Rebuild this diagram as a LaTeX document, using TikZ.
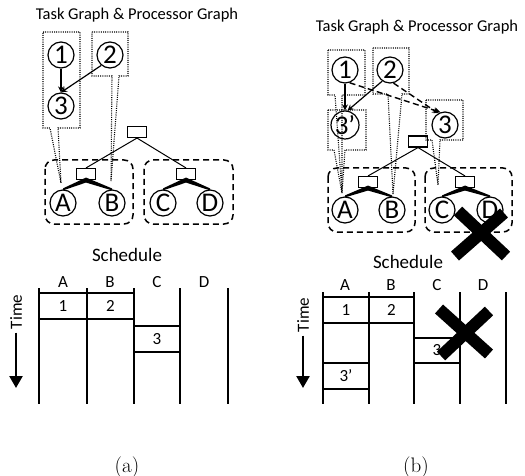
\documentclass[tikz,border=0pt]{standalone}
\usepackage{fontspec}
\newfontfamily\sffont{Carlito}
\usetikzlibrary{arrows.meta}

\tikzset{
    task/.style={circle, draw, line width=1.2pt, minimum size=26pt, inner sep=0pt,
        font=\sffont\fontsize{27}{27}\selectfont},
    switch/.style={draw, line width=1.1pt, minimum width=19pt, minimum height=11pt, inner sep=0pt},
    group/.style={line width=1.5pt, dash pattern=on 6pt off 4pt, rounded corners=9pt},
    callout/.style={line width=1.1pt, dash pattern=on 1pt off 1.2pt},
    link/.style={line width=1pt},
    dep/.style={line width=1.2pt, -{Stealth[length=6pt,width=6pt]}},
    moved/.style={dep, line width=1.4pt, dash pattern=on 6pt off 3.5pt},
    col/.style={line width=2.2pt},
    slot/.style={draw, line width=1.5pt, inner sep=0pt, minimum height=26pt,
        font=\sffont\fontsize{17}{17}\selectfont},
    head/.style={font=\sffont\fontsize{16.5}{16.5}\selectfont},
    schedhead/.style={font=\sffont\fontsize{19}{19}\selectfont},
    colname/.style={font=\sffont\fontsize{17}{17}\selectfont},
    timearrow/.style={line width=2.5pt, -{Triangle[length=12pt,width=13pt]}},
    cross/.style={line width=12pt}
}

\begin{document}
\begin{tikzpicture}[x=1pt, y=-1pt]
    \useasboundingbox (0,0) rectangle (525,476);

    % (a) task graph and processor graph
    \node[head] (titlea) at (137,15) {Task Graph \& Processor Graph};
    \draw[callout] (43,32) -- (80,32) -- (80,128) -- (58,128) -- (61,183) -- (50,128) -- (43,128) -- cycle;
    \draw[callout] (92,32) -- (128,32) -- (128,76) -- (119,76) -- (111,181) -- (112,76) -- (92,76) -- cycle;
    \node[task] (t1a) at (61,55) {1};
    \node[task] (t2a) at (110,55) {2};
    \node[task] (t3a) at (61,106) {3};
    \draw[dep] (t1a) -- (t3a);
    \draw[dep] (t2a.-130) -- (t3a.north);

    \draw[group] (45,160) rectangle (133,224);
    \draw[group] (144,160) rectangle (233,224);
    \node[switch] (roota) at (137,132) {};
    \node[switch] (sla) at (86,174) {};
    \node[switch] (sra) at (186,174) {};
    \node[task] (pAa) at (63,203) {A};
    \node[task] (pBa) at (112,203) {B};
    \node[task] (pCa) at (163,203) {C};
    \node[task] (pDa) at (210,203) {D};
    \draw[link] (roota.south) -- (sla.north);
    \draw[link] (roota.south) -- (sra.north);
    \foreach \s/\p in {sla/pAa, sla/pBa, sra/pCa, sra/pDa} {
        \fill ([yshift=2.5pt]\s.south) -- ([yshift=-2.5pt]\s.south) -- ([yshift=-1pt]\p.north) -- ([yshift=1pt]\p.north) -- cycle;
    }

    % (a) schedule
    \node[schedhead] (scha) at (127,255) {Schedule};
    \foreach \x/\n in {63/A, 110/B, 157/C, 204/D} {
        \node[colname] at (\x,282) {\n};
    }
    \foreach \x in {39,87,134,180,228} {
        \draw[col] (\x,288) -- (\x,404);
    }
    \node[slot, minimum width=48pt] (s1a) at (63,306) {1};
    \node[slot, minimum width=47pt] (s2a) at (110.5,306) {2};
    \node[slot, minimum width=46pt] (s3a) at (157,339) {3};
    \node[colname, rotate=90] (timea) at (16,312) {Time};
    \coordinate (enda) at (16,388);
    \draw[timearrow] (timea.west) -- (enda);
    \node[font=\fontsize{21}{21}\selectfont] (capa) at (127,467) {(a)};

    % (b) task graph and processor graph
    \node[head] (titleb) at (417,27) {Task Graph \& Processor Graph};
    \draw[callout] (328,50) -- (365,50) -- (365,95) -- (342,95) -- (342,193) -- (335,95) -- (328,95) -- cycle;
    \draw[callout] (373,48) -- (409,48) -- (409,94) -- (402,94) -- (393,194) -- (388,94) -- (373,94) -- cycle;
    \draw[callout] (328,110) -- (366,110) -- (366,150) -- (345,150) -- (342,193) -- (334,150) -- (328,150) -- cycle;
    \draw[callout] (426,100) -- (463,100) -- (463,140) -- (440,140) -- (438,185) -- (432,140) -- (426,140) -- cycle;
    \node[task] (t1b) at (345,70) {1};
    \node[task] (t2b) at (390,70) {2};
    \node[task] (t3pb) at (345,125) {3’};
    \node[task] (t3b) at (445,125) {3};
    \draw[dep] (t1b) -- (t3pb);
    \draw[dep] (t2b.-125) -- (t3pb.80);
    \draw[moved] (t1b.-70) -- (t3b.110);
    \draw[moved] (t2b.-75) -- (t3b.120);

    \draw[group] (328,168) rectangle (415,232);
    \draw[group] (425,168) rectangle (512,232);
    \node[switch] (rootb) at (418,141.5) {};
    \node[switch] (slb) at (368,182) {};
    \node[switch] (srb) at (465,182) {};
    \node[task] (pAb) at (345,210) {A};
    \node[task] (pBb) at (392,210) {B};
    \node[task] (pCb) at (442,210) {C};
    \node[task] (pDb) at (490,210) {D};
    \draw[link] (rootb.south) -- (slb.north);
    \draw[link] (rootb.south) -- (srb.north);
    \foreach \s/\p in {slb/pAb, slb/pBb, srb/pCb, srb/pDb} {
        \fill ([yshift=2.5pt]\s.south) -- ([yshift=-2.5pt]\s.south) -- ([yshift=-1pt]\p.north) -- ([yshift=1pt]\p.north) -- cycle;
    }
    \draw[cross] (458,211) -- (506,256) (504,213) -- (455,256);

    % (b) schedule
    \node[schedhead] (schb) at (408,262) {Schedule};
    \foreach \x/\n in {345/A, 391/B, 437/C, 483/D} {
        \node[colname] at (\x,285) {\n};
    }
    \foreach \x in {323,369,414,460,506} {
        \draw[col] (\x,292) -- (\x,404);
    }
    \node[slot, minimum width=46pt] (s1b) at (346,310) {1};
    \node[slot, minimum width=45pt] (s2b) at (391.5,310) {2};
    \node[slot, minimum width=46pt, minimum height=25pt] (s3b) at (437,350.5) {3};
    \node[slot, minimum width=46pt] (s3pb) at (346,376) {3’};
    \draw[cross] (439,309) -- (489,354) (489,311) -- (441,356);
    \node[colname, rotate=90] (timeb) at (303,315) {Time};
    \coordinate (endb) at (303,388);
    \draw[timearrow] (timeb.west) -- (endb);
    \node[font=\fontsize{21}{21}\selectfont] (capb) at (416,467) {(b)};
\end{tikzpicture}
\end{document}
